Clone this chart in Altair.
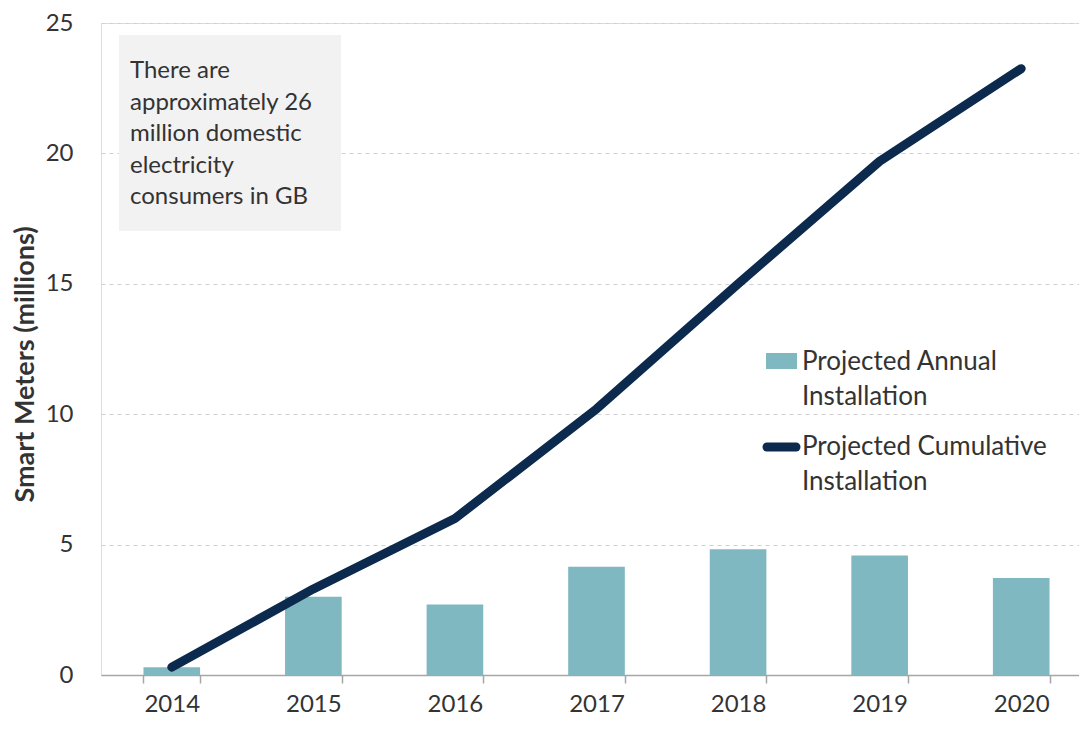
import altair as alt
import pandas as pd

years = ["2014", "2015", "2016", "2017", "2018", "2019", "2020"]
annual = [0.3, 3.0, 2.7, 4.15, 4.82, 4.58, 3.72]
cumulative = [0.3, 3.3, 6.0, 10.2, 15.0, 19.7, 23.25]

note_lines = ["There are", "approximately 26", "million domestic", "electricity", "consumers in GB"]
legend_labels = [["Projected Annual", "Installation"], ["Projected Cumulative", "Installation"]]

FONT = "Lato"
TXT = "#333333"
BAR = "#7fb8c0"
LINE = "#0c2a4d"

df = pd.DataFrame({"Year": years, "Annual": annual, "Cumulative": cumulative})

xenc = alt.X(
    "Year:N",
    sort=years,
    scale=alt.Scale(range=[0, 991], paddingInner=0.6, paddingOuter=0.3),
    axis=alt.Axis(
        title=None, labelAngle=0, labelFontSize=24, labelFont=FONT, labelColor=TXT,
        tickBand="extent", tickSize=8, tickColor="#a6a6a6", tickWidth=1.5,
        domainColor="#a6a6a6", domainWidth=1.5, labelPadding=9, grid=False,
    ),
)
yenc = alt.Y(
    "Annual:Q",
    scale=alt.Scale(domain=[0, 25], nice=False),
    axis=alt.Axis(
        title="Smart Meters (millions)", values=[0, 5, 10, 15, 20, 25],
        labelFontSize=24, labelFont=FONT, labelColor=TXT, labelPadding=28,
        ticks=False, domain=False, grid=True, gridColor="#d0d0d0", gridDash=[4, 4],
        gridWidth=1, titleFont=FONT, titleFontSize=27, titleFontWeight="bold",
        titleColor=TXT, titleX=-76, titleY=341, titleAngle=-90, titleAlign="center",
        titleBaseline="middle",
    ),
)

bars = alt.Chart(df).mark_bar(color=BAR).encode(x=xenc, y=yenc)
line = alt.Chart(df).mark_line(color=LINE, strokeWidth=9, strokeCap="round", strokeJoin="round").encode(
    x=alt.X("Year:N", sort=years), y=alt.Y("Cumulative:Q")
)

# annotation box
box = alt.Chart(pd.DataFrame({"a": [0]})).mark_rect(color="#f2f2f2").encode(
    x=alt.value(18), x2=alt.value(240), y=alt.value(12), y2=alt.value(208)
)
note_df = pd.DataFrame({"t": note_lines, "py": [48, 79.5, 111, 142.5, 174]})
note = alt.Chart(note_df).mark_text(
    align="left", baseline="middle", font=FONT, fontSize=24, color=TXT
).encode(x=alt.value(29), y=alt.Y("py:Q", scale=None), text="t:N")

# legend
leg_rect = alt.Chart(pd.DataFrame({"a": [0]})).mark_rect(color=BAR).encode(
    x=alt.value(665), x2=alt.value(696), y=alt.value(330), y2=alt.value(346)
)
leg_line = alt.Chart(pd.DataFrame({"a": [0]})).mark_rule(
    color=LINE, strokeWidth=9, strokeCap="round"
).encode(x=alt.value(666), x2=alt.value(695), y=alt.value(424))
leg_df = pd.DataFrame({
    "t": legend_labels[0] + legend_labels[1],
    "py": [339, 374, 424, 459],
})
leg_text = alt.Chart(leg_df).mark_text(
    align="left", baseline="middle", font=FONT, fontSize=26, color=TXT
).encode(x=alt.value(701), y=alt.Y("py:Q", scale=None), text="t:N")

chart = alt.layer(bars, line, box, note, leg_rect, leg_line, leg_text).properties(
    width=978, height=652,
    autosize=alt.AutoSizeParams(type="none"),
    padding={"left": 93, "top": 15, "right": 0, "bottom": 44},
).configure_view(stroke=None).configure(background="white")

chart.save("out.html", embed_options={"renderer": "svg", "actions": False})
